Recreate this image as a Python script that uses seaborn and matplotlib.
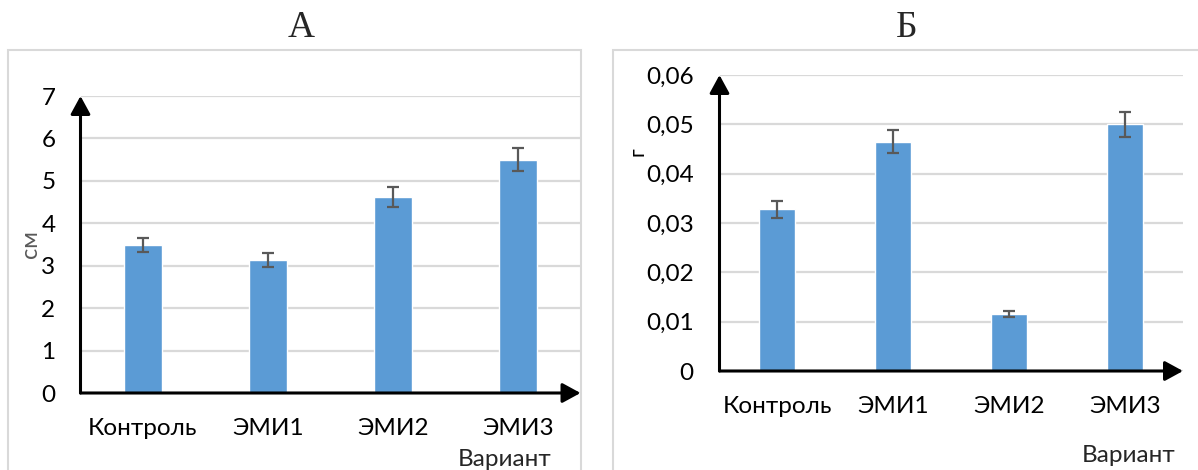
import numpy as np
import pandas as pd
import matplotlib
matplotlib.use("Agg")
import matplotlib.pyplot as plt
import seaborn as sns
from matplotlib.patches import Rectangle

# --- data -------------------------------------------------------------
variants = ["Контроль", "ЭМИ1", "ЭМИ2", "ЭМИ3"]

length_cm = [3.49, 3.13, 4.62, 5.50]
length_err = [0.17, 0.16, 0.24, 0.27]
length_ticks = [0, 1, 2, 3, 4, 5, 6, 7]
length_tick_labels = ["0", "1", "2", "3", "4", "5", "6", "7"]

mass_g = [0.0328, 0.0465, 0.0115, 0.0500]
mass_err = [0.0017, 0.0024, 0.0006, 0.0026]
mass_ticks = [0, 0.01, 0.02, 0.03, 0.04, 0.05, 0.06]
mass_tick_labels = ["0", "0,01", "0,02", "0,03", "0,04", "0,05", "0,06"]

# --- style ------------------------------------------------------------
sns.set_theme(style="white")
plt.rcParams["font.family"] = ["Lato", "DejaVu Sans"]

BAR = "#5B9BD5"
ERR = "#595959"
GRID = "#D9D9D9"
FRAME = "#D9D9D9"
FS = 17.5

W, H = 1198, 470
fig = plt.figure(figsize=(W / 100, H / 100), dpi=100)


def px_axes(left, bottom, right, top):
    """Axes placed by pixel edges (y measured from the top of the figure)."""
    return fig.add_axes([left / W, 1 - bottom / H, (right - left) / W, (bottom - top) / H])


def px_rect(left, top, right, bottom):
    fig.patches.append(Rectangle((left / W, 1 - bottom / H), (right - left) / W,
                                 (bottom - top) / H, transform=fig.transFigure,
                                 fill=False, edgecolor=FRAME, lw=1.5, zorder=0))


def panel(ax, values, errs, ticks, tick_labels, ypad):
    df = pd.DataFrame({"variant": variants, "value": values})
    sns.barplot(data=df, x="variant", y="value", ax=ax, color=BAR, width=0.31,
                saturation=1, zorder=3)
    ax.errorbar(np.arange(len(variants)), values, yerr=errs, fmt="none",
                ecolor=ERR, elinewidth=1.6, capsize=4.5, capthick=1.6, zorder=4)
    ax.set_xlim(-0.5, len(variants) - 0.5)
    ax.set_ylim(ticks[0], ticks[-1])
    ax.set_yticks(ticks)
    ax.set_yticklabels(tick_labels)
    ax.set_xlabel("")
    ax.set_ylabel("")
    ax.grid(axis="y", color=GRID, lw=1.6, zorder=0)
    ax.grid(axis="x", visible=False)
    ax.set_axisbelow(True)
    for s in ax.spines.values():
        s.set_visible(False)
    ax.tick_params(axis="both", length=0, labelsize=FS, colors="black")
    ax.tick_params(axis="y", pad=ypad)
    ax.tick_params(axis="x", pad=18)
    arrow = dict(arrowstyle="-|>,head_length=0.55,head_width=0.3", mutation_scale=20,
                 lw=2.2, color="black", shrinkA=0, shrinkB=0)
    ax.annotate("", xy=(0, 1), xytext=(0, 0), xycoords="axes fraction",
                arrowprops=arrow, annotation_clip=False, zorder=6)
    ax.annotate("", xy=(1, 0), xytext=(0, 0), xycoords="axes fraction",
                arrowprops=arrow, annotation_clip=False, zorder=6)


# panel frames
px_rect(8, 50, 581, 480)
px_rect(613, 50, 1210, 480)

# panel А: length
ax_a = px_axes(80.5, 393, 580.5, 96)
panel(ax_a, length_cm, length_err, length_ticks, length_tick_labels, ypad=18)

# panel Б: mass
ax_b = px_axes(719.5, 371, 1183, 75)
panel(ax_b, mass_g, mass_err, mass_ticks, mass_tick_labels, ypad=18.5)

# titles
fig.text(301 / W, 1 - 28 / H, "А", ha="center", va="center", fontsize=27,
         family="Liberation Serif")
fig.text(906.5 / W, 1 - 28 / H, "Б", ha="center", va="center", fontsize=27,
         family="Liberation Serif")

# axis titles
fig.text(31 / W, 1 - 244 / H, "см", rotation=90, ha="center", va="center",
         fontsize=17, color="#595959")
fig.text(637.5 / W, 1 - 151.5 / H, "г", rotation=90, ha="center", va="center",
         fontsize=15, color="black")
fig.text(551.5 / W, 1 - 460 / H, "Вариант", ha="right", va="center", fontsize=FS)
fig.text(1175.5 / W, 1 - 455 / H, "Вариант", ha="right", va="center", fontsize=FS)

fig.savefig("out.png", dpi=100)
